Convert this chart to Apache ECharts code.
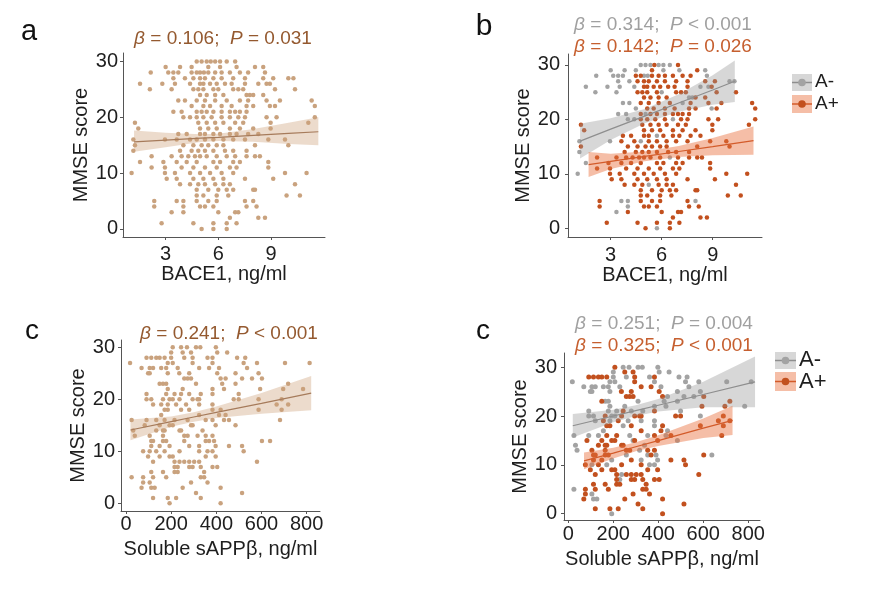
<!DOCTYPE html>
<html>
<head>
<meta charset="utf-8">
<script src="https://cdn.jsdelivr.net/npm/echarts@6/dist/echarts.min.js"></script>
<style>
  html, body { margin: 0; padding: 0; background: #fff; }
  #chart { width: 873px; height: 589px; }
</style>
</head>
<body>
<div id="chart"></div>
<script>
// BACE1 (ng/ml) vs MMSE, split by amyloid status
const bace1Neg = [
  [4.77,30],[5.05,30],[5.34,30],[5.82,30],[6.1,30],[6.48,30],
  [3.0,29],[3.82,29],[4.48,29],[6.1,29],[7.04,29],[8.56,29],
  [2.15,28],[3.15,28],[3.44,28],[3.72,28],[4.96,28],[5.18,28],[8.66,28],
  [3.44,27],[4.1,27],[9.99,27],[10.28,27],
  [1.54,26],[2.81,26],[3.53,26],[4.39,26],[8.28,26],[8.75,26],
  [2.1,25],[3.34,25],[6.0,25],
  [7.61,24],[7.8,24],
  [3.72,23],[4.1,23],[7.23,23],
  [4.48,22],[8.94,22],
  [3.44,21],[3.91,21],[5.05,21],
  [4.01,20],[4.39,20],[6.66,20],
  [5.72,17],
  [1.16,16],[2.96,16],[4.77,16],
  [1.16,14],[6.48,13],[1.54,12],[1.06,10],[5.24,8],
  [3.63,5],[4.01,5],[7.99,5],[4.01,4],[3.34,3],[5.72,0]
]
const bace1Pos = [
  [5.57,30],[6.96,30],
  [5.43,29],[8.09,29],
  [4.48,28],[4.77,28],[5.43,28],[5.82,28],[6.19,28],[6.66,28],[7.23,28],[7.7,28],
  [4.58,27],[4.96,27],[5.24,27],[5.72,27],[6.19,27],[6.85,27],[7.52,27],[8.56,27],[9.13,27],
  [4.96,26],[5.15,26],[5.53,26],[5.91,26],[6.38,26],[6.76,26],[7.52,26],[8.94,26],
  [4.58,25],[4.86,25],[5.15,25],[5.72,25],[6.85,25],[7.14,25],[7.42,25],[9.23,25],[10.37,25],
  [4.96,24],[5.34,24],[5.82,24],[6.29,24],[7.99,24],[8.56,24],
  [4.77,23],[5.24,23],[5.82,23],[6.48,23],[7.7,23],[8.75,23],[9.51,23],[11.32,23],
  [5.15,22],[5.53,22],[6.19,22],[6.76,22],[7.61,22],[7.99,22],[9.23,22],[11.5,22],
  [4.77,21],[5.34,21],[5.72,21],[6.19,21],[6.66,21],[6.96,21],[7.23,21],[7.61,21],
  [4.77,20],[5.15,20],[5.62,20],[6.19,20],[7.14,20],[7.52,20],[8.75,20],[9.32,20],[11.5,20],
  [1.25,19],[4.86,19],[5.34,19],[5.82,19],[6.29,19],[6.96,19],[7.42,19],[8.98,19],[11.13,19],
  [1.44,18],[4.96,18],[5.43,18],[5.91,18],[6.66,18],[7.23,18],[7.99,18],[8.98,18],
  [3.72,17],[4.2,17],[4.96,17],[5.24,17],[6.1,17],[6.66,17],[7.04,17],[7.7,17],[8.28,17],
  [3.63,16],[4.39,16],[5.24,16],[5.72,16],[6.29,16],[6.85,16],[7.52,16],[8.85,16],[9.8,16],
  [1.25,15],[4.01,15],[4.58,15],[5.05,15],[5.43,15],[5.91,15],[6.29,15],[8.09,15],[9.99,15],
  [3.82,14],[4.48,14],[4.86,14],[5.24,14],[5.72,14],[6.38,14],[6.85,14],[7.61,14],
  [2.2,13],[3.34,13],[3.91,13],[4.29,13],[4.67,13],[4.96,13],[5.34,13],[5.91,13],[6.96,13],[7.61,13],[8.09,13],[8.37,13],
  [2.87,12],[3.63,12],[4.2,12],[4.77,12],[5.72,12],[6.1,12],[6.85,12],[7.23,12],[8.85,12],
  [2.2,11],[2.96,11],[3.91,11],[4.58,11],[5.24,11],[5.91,11],[6.66,11],[7.04,11],[8.85,11],
  [2.96,10],[3.53,10],[4.39,10],[4.96,10],[5.53,10],[6.19,10],[6.85,10],[9.8,10],[11.03,10],
  [3.06,9],[3.63,9],[4.58,9],[5.15,9],[5.72,9],[6.29,9],[7.52,9],[9.13,9],
  [3.82,8],[4.39,8],[4.86,8],[5.82,8],[6.29,8],[6.66,8],[10.37,8],
  [4.77,7],[5.43,7],[6.0,7],[6.48,7],[6.85,7],[7.99,7],[8.09,7],
  [4.77,6],[5.15,6],[5.91,6],[6.57,6],[9.89,6],[10.65,6],
  [2.35,5],[4.77,5],[5.43,5],[5.91,5],[7.52,5],
  [2.35,4],[4.96,4],[5.24,4],[5.72,4],[7.61,4],[8.18,4],
  [4.01,3],[6.0,3],[6.96,3],[7.14,3],
  [6.66,2],[8.28,2],[8.66,2],
  [2.77,1],[4.58,1],[5.72,1],[6.48,1],[7.04,1],
  [5.05,0],[6.48,0]
]

// soluble sAPPβ (ng/ml) vs MMSE
const sappNeg = [
  [244,30],[270,30],[310,30],[329,30],[398,30],
  [200,29],[404,29],[448,29],
  [200,28],[258,28],[361,28],[492,28],[528,28],
  [18,27],[185,27],[207,27],[383,27],[521,27],[580,27],[704,27],[813,27],
  [69,26],[105,26],[120,26],[156,26],[178,26],[229,26],[412,26],[536,26],
  [98,25],[105,25],[185,25],[485,25],[587,25],
  [441,24],[514,24],[558,24],
  [164,23],[178,23],[310,23],[426,23],[485,23],
  [185,22],[251,22],[383,22],[434,22],[784,22],
  [91,21],[178,21],[215,21],[280,21],[331,21],[499,21],
  [91,20],[112,20],[193,20],[207,20],[587,20],
  [120,19],[185,19],[266,19],[324,19],[383,19],
  [244,18],[383,18],[156,17],[441,17],
  [25,16],[91,16],[134,16],[273,16],[353,16],[434,16],
  [288,15],[485,15],[32,14],[339,14],[39,13],[317,13],
  [258,12],[353,12],[390,12],[638,12],
  [193,11],[324,11],[397,11],
  [105,10],[171,10],[361,10],[383,10],
  [237,8],[229,7],[25,5],[105,4],[112,3],[127,3],[193,0]
]
const sappPos = [
  [207,30],[251,29],[288,29],
  [91,28],[112,28],[134,28],[149,28],[171,28],[295,28],[383,28],
  [295,27],[324,26],[368,26],
  [236,25],[280,25],[404,25],
  [258,24],[273,24],[288,24],[419,24],[602,24],
  [149,23],[718,23],[594,22],[696,22],[244,21],[383,21],
  [164,20],[237,20],[295,20],[317,20],[324,20],[477,20],[499,20],[689,20],
  [156,19],[222,19],[667,19],[718,19],
  [171,18],[185,18],[280,18],[419,18],[587,18],[689,18],
  [324,17],[412,17],
  [171,16],[215,16],[383,16],[456,16],[682,16],
  [83,15],[149,15],[193,15],[207,15],[295,15],[397,15],
  [134,14],[164,14],[171,14],[237,14],[244,14],
  [105,13],[164,13],[258,13],[273,13],[353,13],[383,13],
  [112,12],[120,12],[164,12],[178,12],[368,12],[602,12],
  [112,11],[149,11],[280,11],[456,11],[514,11],
  [76,10],[134,10],[237,10],[324,10],[521,10],
  [98,9],[149,9],[193,9],[207,9],[353,9],[397,9],
  [120,8],[215,8],[258,8],[280,8],[302,8],[324,8],[580,8],
  [215,7],[280,7],[295,7],[331,7],[383,7],[404,7],
  [112,6],[164,6],[215,6],[229,6],[346,6],
  [76,5],[120,5],[178,5],[331,5],[346,5],
  [76,4],[288,4],[361,4],
  [69,3],[251,3],[419,3],
  [310,2],[514,2],
  [120,1],[185,1],[222,1],[331,1],
  [419,0]
]

// fitted lines with 95% bands: [x, lower, fit, upper]
const bandA = [[1.2,13.8,15.6,17.6],[3,14.6,15.9,17.2],[5,15.55,16.25,16.95],[6,15.75,16.4,17.05],[8,15.6,16.75,17.9],[10,15.2,17.1,19.0],[11.7,15.0,17.4,20.0]]
const bandBNeg = [[1.2,12.8,16.0,19.2],[3,16.2,18.2,20.2],[5,19.3,20.6,21.9],[7,21.4,23.0,24.6],[9,22.7,25.4,28.1],[10.3,23.2,27.0,30.8]]
const bandBPos = [[1.7,9.4,11.7,14.0],[3,10.9,12.3,13.7],[5,12.3,13.2,14.1],[7,13.1,14.1,15.1],[9,13.4,15.0,16.6],[11.4,13.5,16.1,18.7]]
const bandC = [[20,12.1,14.1,16.1],[200,14.7,15.7,16.7],[300,15.7,16.6,17.5],[400,16.4,17.5,18.6],[600,17.2,19.2,21.2],[820,17.9,21.2,24.5]]
const bandDNeg = [[20,15.6,18.0,20.4],[200,18.7,20.0,21.3],[300,20.0,21.1,22.2],[400,20.9,22.2,23.5],[600,21.8,24.4,27.0],[830,21.8,27.0,32.2]]
const bandDPos = [[70,9.1,10.8,12.5],[200,11.3,12.4,13.5],[300,12.8,13.7,14.6],[400,13.85,14.95,16.05],[600,15.5,17.5,19.5],[730,16.1,19.1,22.1]]

const yTicks = [0, 10, 20, 30]
const baceTicks = [3, 6, 9]
const sappTicks = [0, 200, 400, 600, 800]

const FONT = '"Liberation Sans", Arial, sans-serif'
const tan = { dot: '#C9A27E', line: '#A67B5B', band: 'rgba(205,160,120,0.38)', text: '#94592F' }
const grey = { dot: '#A3A3A3', line: '#8E8E8E', band: 'rgba(150,150,150,0.38)', text: '#A0A0A0' }
const orange = { dot: '#C2501E', line: '#D35B2A', band: 'rgba(232,110,60,0.45)', text: '#C65F2F' }

const chart = echarts.init(document.getElementById('chart'))

function xAx (i, min, max, ticks, name, margin, gap) {
  return {
    type: 'value', gridIndex: i, min: min, max: max,
    name: name, nameLocation: 'middle', nameGap: gap,
    nameTextStyle: { fontFamily: FONT, fontSize: 20, color: '#1e1e1e' },
    axisLine: { show: true, onZero: false, lineStyle: { color: '#555', width: 1 } },
    axisTick: { show: true, length: 3, customValues: ticks, lineStyle: { color: '#555' } },
    axisLabel: { customValues: ticks, margin: margin, fontFamily: FONT, fontSize: 20, color: '#1e1e1e' },
    splitLine: { show: false }
  }
}
function yAx (i, min, max, margin, gap) {
  return {
    type: 'value', gridIndex: i, min: min, max: max,
    name: 'MMSE score', nameLocation: 'middle', nameGap: gap,
    nameTextStyle: { fontFamily: FONT, fontSize: 20, color: '#1e1e1e' },
    axisLine: { show: true, onZero: false, lineStyle: { color: '#555', width: 1 } },
    axisTick: { show: true, length: 3, customValues: yTicks, lineStyle: { color: '#555' } },
    axisLabel: { customValues: yTicks, margin: margin, fontFamily: FONT, fontSize: 20, color: '#1e1e1e' },
    splitLine: { show: false }
  }
}

function dots (i, data, color, size) {
  return {
    type: 'scatter', xAxisIndex: i, yAxisIndex: i, data: data,
    symbolSize: size, itemStyle: { color: color, opacity: 1 }, z: 2, silent: true
  }
}
function band (i, rows, fill) {
  return {
    type: 'custom', xAxisIndex: i, yAxisIndex: i, data: rows, z: 3, silent: true,
    renderItem: function (params, api) {
      if (params.dataIndex !== 0) return null
      const pts = []
      rows.forEach(r => pts.push(api.coord([r[0], r[3]])))
      for (let k = rows.length - 1; k >= 0; k--) pts.push(api.coord([rows[k][0], rows[k][1]]))
      return { type: 'polygon', shape: { points: pts }, style: { fill: fill } }
    }
  }
}
function fit (i, rows, color) {
  return {
    type: 'line', xAxisIndex: i, yAxisIndex: i, data: rows.map(r => [r[0], r[2]]),
    showSymbol: false, lineStyle: { color: color, width: 1.2 }, z: 4, silent: true
  }
}

function txt (x, y, text, color, size, align) {
  return {
    type: 'text', x: x, y: y, z: 10,
    style: {
      text: text, fill: color, fontSize: size, fontFamily: FONT,
      align: align || 'center', verticalAlign: 'middle',
      rich: { i: { fontStyle: 'italic', fontSize: size, fontFamily: FONT, fill: color } }
    }
  }
}
function key (x, y, w, h, c) {
  return [
    { type: 'rect', shape: { x: x, y: y, width: w, height: h }, style: { fill: c.band }, z: 10 },
    { type: 'line', shape: { x1: x, y1: y + h / 2, x2: x + w, y2: y + h / 2 }, style: { stroke: c.line, lineWidth: 1.5 }, z: 11 },
    { type: 'circle', shape: { cx: x + w / 2, cy: y + h / 2, r: 3.8 }, style: { fill: c.dot }, z: 12 }
  ]
}

const option = {
  animation: false,
  backgroundColor: '#fff',
  grid: [
    { left: 123, top: 53, width: 202, height: 184 },
    { left: 568, top: 54, width: 194, height: 183 },
    { left: 121, top: 340, width: 199, height: 171 },
    { left: 564, top: 353, width: 196, height: 167 }
  ],
  xAxis: [
    xAx(0, 0.57, 12.08, baceTicks, 'BACE1, ng/ml', 7, 27),
    xAx(1, 0.49, 11.9, baceTicks, 'BACE1, ng/ml', 8, 28),
    xAx(2, -22, 859, sappTicks, 'Soluble sAPPβ, ng/ml', 3, 28),
    xAx(3, -19, 852, sappTicks, 'Soluble sAPPβ, ng/ml', 4, 29)
  ],
  yAxis: [
    yAx(0, -1.45, 31.5, 5, 32),
    yAx(1, -1.6, 32.0, 8, 35),
    yAx(2, -1.48, 31.4, 6, 31),
    yAx(3, -1.3, 32.9, 7, 32)
  ],
  series: [
    dots(0, bace1Neg.concat(bace1Pos), tan.dot, 4.5),
    band(0, bandA, tan.band),
    fit(0, bandA, tan.line),

    dots(1, bace1Neg, grey.dot, 4.5),
    dots(1, bace1Pos, orange.dot, 4.5),
    band(1, bandBNeg, grey.band),
    band(1, bandBPos, orange.band),
    fit(1, bandBNeg, grey.line),
    fit(1, bandBPos, orange.line),

    dots(2, sappNeg.concat(sappPos), tan.dot, 4.5),
    band(2, bandC, tan.band),
    fit(2, bandC, tan.line),

    dots(3, sappNeg, grey.dot, 5),
    dots(3, sappPos, orange.dot, 5),
    band(3, bandDNeg, grey.band),
    band(3, bandDPos, orange.band),
    fit(3, bandDNeg, grey.line),
    fit(3, bandDPos, orange.line)
  ],
  graphic: [
    txt(29, 32, 'a', '#111', 29),
    txt(484, 27, 'b', '#111', 30),
    txt(32, 331, 'c', '#111', 28),
    txt(483, 331, 'c', '#111', 28),
    txt(223, 39, '{i|β} = 0.106;  {i|P} = 0.031', tan.text, 19),
    txt(663, 25, '{i|β} = 0.314;  {i|P} < 0.001', grey.text, 19),
    txt(663, 47, '{i|β} = 0.142;  {i|P} = 0.026', orange.text, 19),
    txt(229, 334, '{i|β} = 0.241;  {i|P} < 0.001', tan.text, 19),
    txt(664, 324, '{i|β} = 0.251;  {i|P} = 0.004', grey.text, 19),
    txt(664, 346, '{i|β} = 0.325;  {i|P} < 0.001', orange.text, 19),
    ...key(792, 74, 20, 17, grey),
    ...key(792, 95, 20, 18, orange),
    txt(815, 82, 'A-', '#1e1e1e', 19, 'left'),
    txt(815, 104, 'A+', '#1e1e1e', 19, 'left'),
    ...key(775, 352, 21, 17, grey),
    ...key(775, 372, 21, 19, orange),
    txt(799, 360, 'A-', '#1e1e1e', 22, 'left'),
    txt(799, 382, 'A+', '#1e1e1e', 22, 'left')
  ]
}
chart.setOption(option)
</script>
</body>
</html>
